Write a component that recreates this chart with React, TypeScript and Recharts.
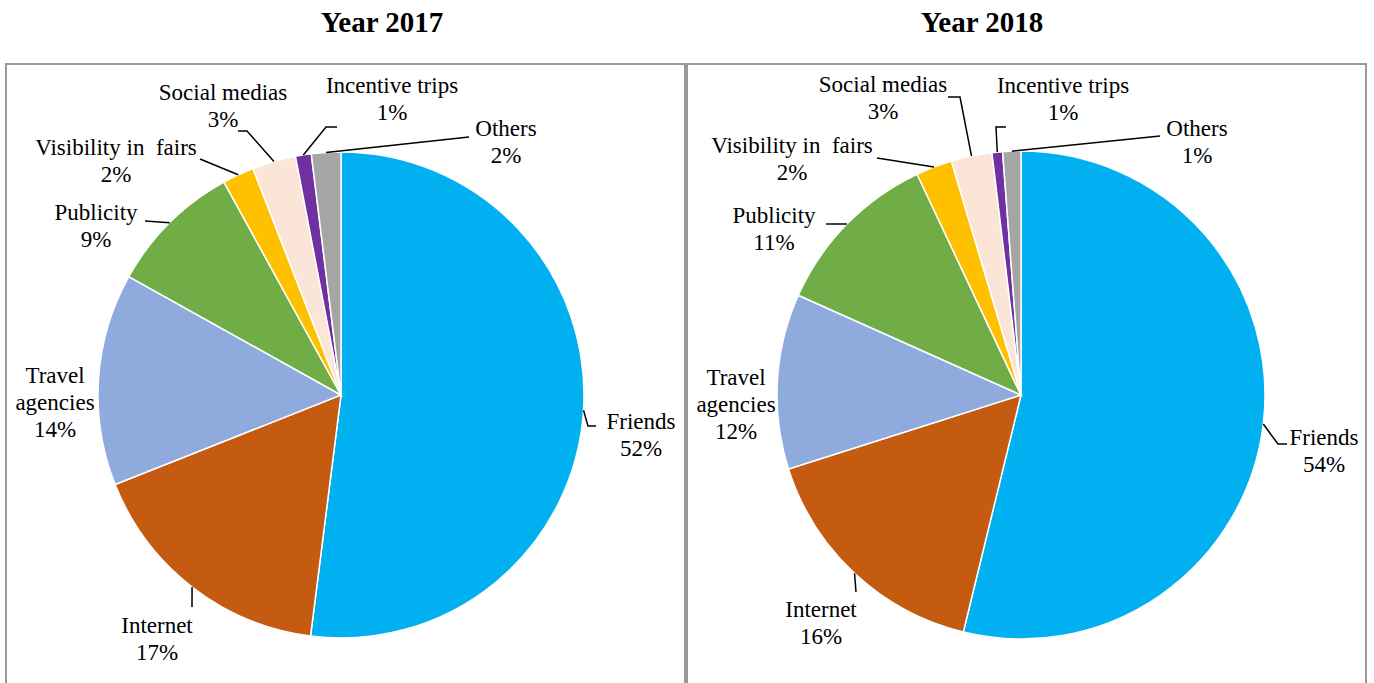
import React from 'react';
import { PieChart, Pie, Cell } from 'recharts';

// categories, clockwise from 12 o'clock
const categories = ['Friends', 'Internet', 'Travel agencies', 'Publicity', 'Visibility in  fairs', 'Social medias', 'Incentive trips', 'Others'];
const labelLines = [['Friends'], ['Internet'], ['Travel', 'agencies'], ['Publicity'], ['Visibility in\u00A0 fairs'], ['Social medias'], ['Incentive trips'], ['Others']];
const values2017 = [52.0, 17.0, 14.1, 8.9, 2.1, 2.9, 1.05, 1.95];
const values2018 = [53.8, 16.3, 11.6, 11.3, 2.4, 2.7, 0.7, 1.2];
const colors = ['#00B0F0', '#C55A11', '#8FAADC', '#70AD47', '#FFC000', '#FBE5D6', '#7030A0', '#A5A5A5'];

// label placement relative to pie centre: text [x, firstBaseline], leader elbow points
type LabelPos = { text: [number, number]; leader: [number, number][] };
const labels2017: LabelPos[] = [
  { text: [300, 34], leader: [[247, 31], [255, 31]] },
  { text: [-184, 238], leader: [[-149, 212]] },
  { text: [-286, -12], leader: [] },
  { text: [-245, -175], leader: [[-196, -174]] },
  { text: [-225, -240], leader: [[-141, -236]] },
  { text: [-118, -295], leader: [[-94, -264], [-103, -264]] },
  { text: [51, -302], leader: [[-15, -268], [-4, -268]] },
  { text: [165, -259], leader: [[128, -258]] },
];
const labels2018: LabelPos[] = [
  { text: [303, 50], leader: [[257, 49], [266, 49]] },
  { text: [-200, 222], leader: [[-165, 197]] },
  { text: [-285, -10], leader: [] },
  { text: [-247, -172], leader: [[-195, -171]] },
  { text: [-229, -242], leader: [[-144, -237]] },
  { text: [-138, -303], leader: [[-61, -298], [-73, -298]] },
  { text: [42, -302], leader: [[-25, -268], [-15, -268]] },
  { text: [176, -259], leader: [[139, -259]] },
];

const data2017 = categories.map((name, i) => ({ name, value: values2017[i] }));
const data2018 = categories.map((name, i) => ({ name, value: values2018[i] }));

const RAD = Math.PI / 180;
const FONT = '"Liberation Serif", "Times New Roman", serif';

const makeLabel = (layout: LabelPos[]) => (props: any) => {
  const { cx, cy, midAngle, outerRadius, index, value } = props;
  const pos = layout[index];
  const ex = cx + outerRadius * Math.cos(-midAngle * RAD);
  const ey = cy + outerRadius * Math.sin(-midAngle * RAD);
  const pts = [[ex, ey], ...pos.leader.map(([dx, dy]) => [cx + dx, cy + dy])];
  const lines = [...labelLines[index], `${Math.round(value)}%`];
  return (
    <g>
      {pos.leader.length > 0 && (
        <polyline points={pts.map((p) => p.join(',')).join(' ')} fill="none" stroke="#000" strokeWidth={1.5} />
      )}
      <text
        x={cx + pos.text[0]}
        y={cy + pos.text[1]}
        textAnchor="middle"
        fill="#000"
        style={{ fontFamily: FONT, fontSize: 23, whiteSpace: 'pre' }}
      >
        {lines.map((l, i) => (
          <tspan key={i} x={cx + pos.text[0]} dy={i === 0 ? 0 : 27}>{l}</tspan>
        ))}
      </text>
    </g>
  );
};

const boxStyle: React.CSSProperties = {
  position: 'absolute',
  top: 63,
  height: 640,
  border: '2px solid #999',
  boxSizing: 'border-box',
};

const titleStyle: React.CSSProperties = {
  position: 'absolute',
  top: 4,
  width: 300,
  textAlign: 'center',
  fontFamily: FONT,
  fontWeight: 'bold',
  fontSize: 29,
  lineHeight: '36px',
};

export default function App() {
  return (
    <div style={{ position: 'absolute', left: 0, top: 0, width: 1374, height: 683, overflow: 'hidden', background: '#fff' }}>
      <div style={{ ...titleStyle, left: 232 }}>Year 2017</div>
      <div style={{ ...titleStyle, left: 832 }}>Year 2018</div>
      <div style={{ ...boxStyle, left: 5, width: 681 }} />
      <div style={{ ...boxStyle, left: 686, width: 681 }} />
      <div style={{ position: 'absolute', left: 0, top: 0 }}>
        <PieChart width={1374} height={683} margin={{ top: 0, right: 0, bottom: 0, left: 0 }}>
          <Pie
            data={data2017}
            dataKey="value"
            nameKey="name"
            cx={341}
            cy={395}
            outerRadius={243}
            startAngle={90}
            endAngle={-270}
            stroke="#fff"
            strokeWidth={1.5}
            label={makeLabel(labels2017)}
            labelLine={false}
            isAnimationActive={false}
          >
            {data2017.map((d, i) => (
              <Cell key={d.name} fill={colors[i]} />
            ))}
          </Pie>
          <Pie
            data={data2018}
            dataKey="value"
            nameKey="name"
            cx={1021}
            cy={395}
            outerRadius={244}
            startAngle={90}
            endAngle={-270}
            stroke="#fff"
            strokeWidth={1.5}
            label={makeLabel(labels2018)}
            labelLine={false}
            isAnimationActive={false}
          >
            {data2018.map((d, i) => (
              <Cell key={d.name} fill={colors[i]} />
            ))}
          </Pie>
        </PieChart>
      </div>
    </div>
  );
}
